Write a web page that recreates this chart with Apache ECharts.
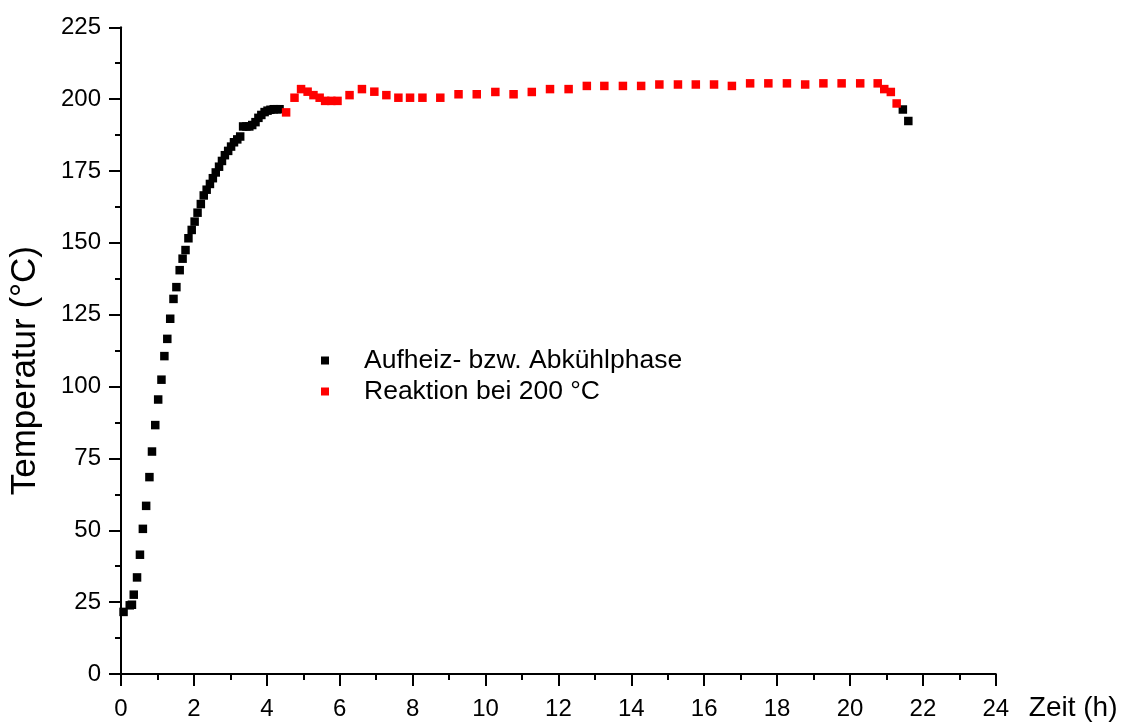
<!DOCTYPE html>
<html>
<head>
<meta charset="utf-8">
<script src="https://cdn.jsdelivr.net/npm/echarts@6/dist/echarts.min.js"></script>
<style>html,body{margin:0;padding:0;background:#fff;}#c{width:1121px;height:722px;}</style>
</head>
<body>
<div id="c"></div>
<script>
// Heating / cooling phase (black)
var heatTime = [0.07,0.24,0.30,0.35,0.44,0.52,0.60,0.69,0.78,0.85,0.94,1.02,1.11,1.19,1.27,1.35,1.44,1.52,1.61,1.69,1.77,1.85,1.94,2.02,
  2.10,2.19,2.27,2.35,2.44,2.52,2.60,2.69,2.77,2.85,2.94,3.02,3.10,3.19,3.27,3.35,3.44,3.52,3.60,3.69,3.77,3.85,3.94,4.02,4.10,4.19,4.27,4.35,
  21.45,21.60];
var heatTemp = [21.6,23.9,24.1,27.6,33.6,41.5,50.5,58.5,68.5,77.4,86.6,95.5,102.4,110.6,116.6,123.6,130.5,134.6,140.5,144.5,147.5,151.6,154.5,157.4,
  160.5,163.5,166.5,168.5,170.5,172.5,174.5,176.5,178.5,180.5,182,183.5,185,186,187,190.5,190.5,190.5,191,192,193.5,194.5,195.5,196,196.3,196.5,196.5,196.5,
  196.4,192.4];
// Reaction at 200 °C (red)
var reactTime = [4.53,4.76,4.94,5.12,5.28,5.45,5.60,5.77,5.94,6.27,6.61,6.95,7.28,7.61,7.93,8.27,8.76,9.26,9.76,10.27,10.77,11.27,11.77,12.28,12.78,13.26,13.77,14.27,14.77,15.28,15.77,16.27,16.76,17.26,17.76,18.27,18.77,19.27,19.77,20.28,20.76,20.94,21.12,21.28];
var reactTemp = [195.4,200.5,203.5,202.6,201.4,200.5,199.4,199.4,199.4,201.4,203.5,202.6,201.4,200.5,200.5,200.5,200.5,201.7,201.7,202.5,201.7,202.5,203.5,203.5,204.6,204.6,204.6,204.6,205.1,205.1,205.1,205.1,204.6,205.5,205.5,205.5,205.1,205.5,205.5,205.5,205.5,203.5,202.5,198.5];
var seriesNames = ['Aufheiz- bzw. Abkühlphase', 'Reaktion bei 200 °C'];
var xAxisName = 'Zeit (h)';
var yAxisName = 'Temperatur (°C)';

function pairs(xs, ys){ return xs.map(function(x,i){ return [x, ys[i]]; }); }

var font = 'Liberation Sans, Arial, sans-serif';
var chart = echarts.init(document.getElementById('c'));
chart.setOption({
  backgroundColor: '#fff',
  animation: false,
  grid: { left: 120.7, right: 125.2, top: 27.3, bottom: 47.7, containLabel: false },
  legend: {
    orient: 'vertical', left: 316, top: 342, itemWidth: 8, itemHeight: 8, itemGap: 4,
    icon: 'rect',
    textStyle: { fontFamily: font, fontSize: 26.5, lineHeight: 27, color: '#000', padding: [0,0,0,30] },
    data: seriesNames
  },
  xAxis: {
    type: 'value', min: 0, max: 24, interval: 2,
    name: xAxisName, nameLocation: 'end', nameGap: 33,
    nameTextStyle: { fontFamily: font, fontSize: 28, color: '#000', verticalAlign: 'top', padding: [20,0,0,0] },
    axisLine: { show: true, onZero: false, lineStyle: { color: '#000', width: 2 } },
    axisTick: { show: true, inside: false, length: 12, lineStyle: { color: '#000', width: 2 } },
    minorTick: { show: true, splitNumber: 2, length: 6, lineStyle: { color: '#000', width: 2 } },
    splitLine: { show: false },
    axisLabel: { fontFamily: font, fontSize: 24, color: '#000', margin: 23 }
  },
  yAxis: {
    type: 'value', min: 0, max: 225, interval: 25,
    name: yAxisName, nameLocation: 'middle', nameGap: 78, nameRotate: 90,
    nameTextStyle: { fontFamily: font, fontSize: 35, color: '#000', padding: [0, 40, 0, 0] },
    axisLine: { show: true, onZero: false, lineStyle: { color: '#000', width: 2 } },
    axisTick: { show: true, inside: false, length: 12, lineStyle: { color: '#000', width: 2 } },
    minorTick: { show: true, splitNumber: 2, length: 6, lineStyle: { color: '#000', width: 2 } },
    splitLine: { show: false },
    axisLabel: { fontFamily: font, fontSize: 24, color: '#000', margin: 20 }
  },
  series: [
    { name: seriesNames[0], type: 'scatter', symbol: 'rect', symbolSize: 8.5,
      itemStyle: { color: '#000', opacity: 1 }, data: pairs(heatTime, heatTemp) },
    { name: seriesNames[1], type: 'scatter', symbol: 'rect', symbolSize: 8.5,
      itemStyle: { color: '#ff0000', opacity: 1 }, data: pairs(reactTime, reactTemp) }
  ]
});
</script>
</body>
</html>
